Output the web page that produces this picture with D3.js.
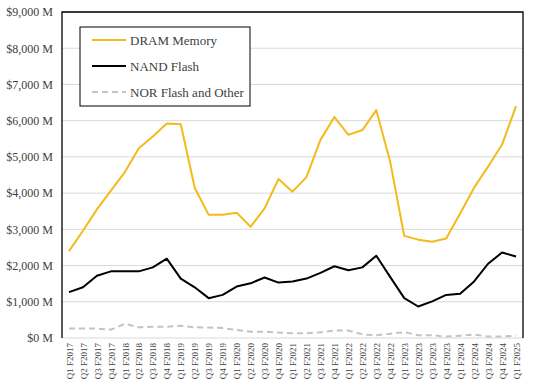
<!DOCTYPE html>
<html>
<head>
<meta charset="utf-8">
<script src="https://cdn.jsdelivr.net/npm/d3@7"></script>
<style>
  body { margin: 0; background: #fff; }
  text { font-family: "Liberation Serif", "DejaVu Serif", serif; fill: #404040; }
</style>
</head>
<body>
<div id="chart"></div>
<script>
const quarters = [
  "Q1 F2017","Q2 F2017","Q3 F2017","Q4 F2017",
  "Q1 F2018","Q2 F2018","Q3 F2018","Q4 F2018",
  "Q1 F2019","Q2 F2019","Q3 F2019","Q4 F2019",
  "Q1 F2020","Q2 F2020","Q3 F2020","Q4 F2020",
  "Q1 F2021","Q2 F2021","Q3 F2021","Q4 F2021",
  "Q1 F2022","Q2 F2022","Q3 F2022","Q4 F2022",
  "Q1 F2023","Q2 F2023","Q3 F2023","Q4 F2023",
  "Q1 F2024","Q2 F2024","Q3 F2024","Q4 F2024",
  "Q1 F2025"
];
const dram = [2400, 2960, 3550, 4070, 4580, 5240, 5560, 5920, 5900, 4150, 3400, 3400,
  3460, 3070, 3580, 4390, 4040, 4440, 5470, 6100, 5610, 5740, 6290, 4850,
  2820, 2715, 2655, 2745, 3440, 4150, 4730, 5340, 6400];
const nand = [1265, 1400, 1720, 1840, 1840, 1840, 1950, 2190, 1640, 1400, 1100, 1190,
  1420, 1510, 1670, 1530, 1560, 1640, 1800, 1980, 1870, 1950, 2270, 1680,
  1100, 870, 1010, 1190, 1220, 1560, 2050, 2360, 2250];
const nor = [260, 260, 260, 230, 390, 295, 310, 310, 340, 295, 290, 275,
  220, 175, 175, 150, 130, 130, 160, 205, 205, 100, 75, 120,
  160, 75, 75, 40, 65, 95, 40, 40, 65];
const yTicks = [0, 1000, 2000, 3000, 4000, 5000, 6000, 7000, 8000, 9000];

const series = [
  {label: "DRAM Memory", values: dram, color: "#f2bb1b", dash: null, width: 2},
  {label: "NAND Flash", values: nand, color: "#000000", dash: null, width: 2},
  {label: "NOR Flash and Other", values: nor, color: "#c3c3c3", dash: "6,4", width: 2}
];

const width = 533, height = 384;
const margin = {top: 12, right: 10, bottom: 46, left: 62};
const w = width - margin.left - margin.right;
const h = height - margin.top - margin.bottom;

const svg = d3.select("#chart").append("svg")
  .attr("width", width).attr("height", height);
const g = svg.append("g").attr("transform", `translate(${margin.left},${margin.top})`);

const x = d3.scalePoint().domain(quarters).range([0, w]).padding(0.5);
const y = d3.scaleLinear().domain([0, 9000]).range([h, 0]);

// gridlines
g.append("g").selectAll("line").data(yTicks).enter().append("line")
  .attr("x1", 0).attr("x2", w)
  .attr("y1", d => y(d)).attr("y2", d => y(d))
  .attr("stroke", "#d9d9d9").attr("stroke-width", 1);

// border: top, right, left
g.append("path")
  .attr("d", `M0,${h}V0H${w}V${h}`)
  .attr("fill", "none").attr("stroke", "#000").attr("stroke-width", 1.3);

const yAxis = g.append("g")
  .call(d3.axisLeft(y).tickValues(yTicks).tickSize(0).tickPadding(9)
    .tickFormat(d => "$" + d3.format(",")(d) + " M"));
yAxis.select(".domain").remove();
yAxis.selectAll("text").attr("font-size", 12).attr("fill", "#404040")
  .style("font-family", '"Liberation Serif", serif');

const xAxis = g.append("g").attr("transform", `translate(0,${h})`)
  .call(d3.axisBottom(x).tickSize(0).tickPadding(5));
xAxis.select(".domain").remove();
xAxis.selectAll("text")
  .attr("font-size", 9).attr("fill", "#404040")
  .style("font-family", '"Liberation Serif", serif')
  .attr("text-anchor", "end")
  .attr("transform", "rotate(-90)")
  .attr("x", -5).attr("y", 0).attr("dy", "0.35em");

const line = d3.line()
  .x((d, i) => x(quarters[i]))
  .y(d => y(d));

// draw NOR first so others overlay
[series[2], series[0], series[1]].forEach(s => {
  g.append("path")
    .datum(s.values)
    .attr("d", line)
    .attr("fill", "none")
    .attr("stroke", s.color)
    .attr("stroke-width", s.width)
    .attr("stroke-dasharray", s.dash)
    .attr("stroke-linejoin", "round");
});

// legend
const legend = svg.append("g").attr("transform", "translate(80,27)");
legend.append("rect")
  .attr("width", 170).attr("height", 79)
  .attr("fill", "#fff").attr("stroke", "#000").attr("stroke-width", 1);
series.forEach((s, i) => {
  const ly = 13 + i * 26;
  legend.append("line")
    .attr("x1", 12).attr("x2", 46).attr("y1", ly).attr("y2", ly)
    .attr("stroke", s.color).attr("stroke-width", 2)
    .attr("stroke-dasharray", s.dash);
  legend.append("text")
    .attr("x", 50).attr("y", ly).attr("dy", "0.35em")
    .attr("font-size", 13).attr("fill", "#404040")
    .text(s.label);
});
</script>
</body>
</html>
